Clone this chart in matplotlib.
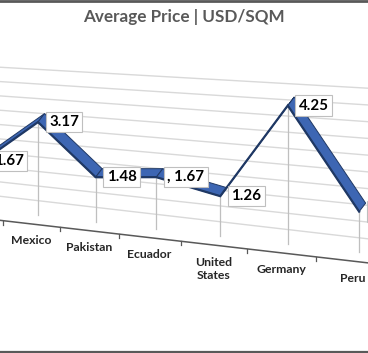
import matplotlib
matplotlib.use('Agg')
import matplotlib.pyplot as plt
from matplotlib.patches import Polygon
import numpy as np

# ---- data ----
categories = ['', 'Mexico', 'Pakistan', 'Ecuador', 'United\nStates', 'Germany', 'Peru']
values = [1.67, 3.17, 1.48, 1.67, 1.26, 4.25, 1.21]
label_prefix = ['', '', '', ', ', '', '', '']
grid_values = [0, 0.5, 1.0, 1.5, 2.0, 2.5, 3.0, 3.5, 4.0, 4.5]
title = 'Average Price | USD/SQM'

FONT = ['Lato', 'DejaVu Sans']

# ---- simple perspective projection (3D Excel-style view) ----
X1, Y1 = 38.0, 215.0      # screen position of category 1 at value 0
A, B = 56.2, 6.5          # category step (x, y)
S = 29.3                  # pixels per value unit
G = -0.025                # perspective factor
DZX, DZY = 6.5, -8.5      # depth direction
ZR = 1.0                  # ribbon depth
ZB = 1.55                 # back wall depth
ZF = -1.05                # front floor edge depth


def project(i, v, z=0.0):
    i = np.asarray(i, float)
    v = np.asarray(v, float)
    w = 1 + G * (i - 1)
    px = X1 + A * (i - 1) / w + DZX * z
    py = Y1 + B * (i - 1) / w - S * v / w + DZY * z
    return px, py


fig = plt.figure(figsize=(3.68, 3.53), dpi=100)
ax = fig.add_axes([0, 0, 1, 1])
ax.set_xlim(0, 368)
ax.set_ylim(353, 0)
ax.axis('off')

n = len(values)
idx = np.arange(n)

# back wall gridlines
for g in grid_values:
    xs, ys = project([-1, 7.5], [g, g], ZB)
    ax.plot(xs, ys, color='#D9D9D9', lw=1.0, zorder=1)

# front floor edge + ticks
xs, ys = project([-1, 7.5], [0, 0], ZF)
ax.plot(xs, ys, color='#595959', lw=1.1, zorder=2)
for k in range(-1, n + 1):
    tx, ty = project(k + 0.5, 0, ZF)
    ax.plot([tx, tx], [ty, ty + 4], color='#595959', lw=0.9, zorder=2)

# drop lines
fx, fy = project(idx, values, 0)
bx0, by0 = project(idx, np.zeros(n), 0)
for k in range(n):
    ax.plot([fx[k], bx0[k]], [fy[k], by0[k]], color='#BFBFBF', lw=0.9, zorder=2)

# ribbon
rx, ry = project(idx, values, ZR)
for k in range(n - 1):
    poly = Polygon([(fx[k], fy[k]), (fx[k + 1], fy[k + 1]),
                    (rx[k + 1], ry[k + 1]), (rx[k], ry[k])],
                   closed=True, fc='#3D66B3', ec='#1F3864', lw=0.7, zorder=3 + k * 0.01)
    ax.add_patch(poly)
ax.plot(fx, fy, color='#1F3864', lw=1.6, zorder=4, solid_joinstyle='miter')

# data labels
for k in range(n):
    ax.text(fx[k] + 11, fy[k], f'{label_prefix[k]}{values[k]:.2f}', ha='left', va='center',
            fontsize=10.8, fontweight='bold', family=FONT, color='black', zorder=10,
            bbox=dict(boxstyle='square,pad=0.22', fc='white', ec='#BFBFBF', lw=0.8))

# category labels
cx, cy = project(idx, np.zeros(n), ZF)
for k in range(n):
    ax.text(cx[k], cy[k] + 11.5, categories[k], ha='center', va='top', fontsize=8.8,
            fontweight='bold', family=FONT, color='#262626', linespacing=1.25, zorder=10)

# title
ax.text(184, 17, title, ha='center', va='center', fontsize=12.3, fontweight='bold',
        family=FONT, color='#595959')

# chart border (top & bottom visible)
ax.plot([0, 368], [0.8, 0.8], color='#595959', lw=2, zorder=20)
ax.plot([0, 368], [352.2, 352.2], color='#595959', lw=1.6, zorder=20)

fig.savefig('out.png', dpi=100)
